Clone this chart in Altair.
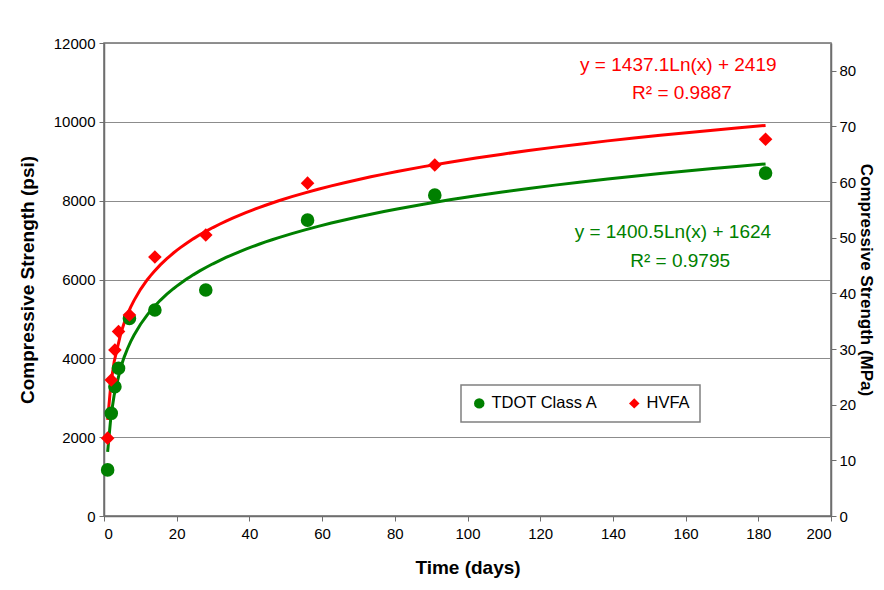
import altair as alt
import pandas as pd

# ---- data ----
days = [1, 2, 3, 4, 7, 14, 28, 56, 91, 182]
tdot_psi = [1170, 2605, 3280, 3750, 5010, 5225, 5735, 7505, 8140, 8700]
hvfa_psi = [1975, 3450, 4210, 4680, 5100, 6570, 7130, 8445, 8905, 9560]
series_names = ["TDOT Class A", "HVFA"]
series_colors = ["#008000", "#ff0000"]
series_shapes = ["circle", "diamond"]

ann_series = ["HVFA", "HVFA", "TDOT Class A", "TDOT Class A"]
ann_text = ["y = 1437.1Ln(x) + 2419", "R² = 0.9887", "y = 1400.5Ln(x) + 1624", "R² = 0.9795"]
ann_day = [158, 159, 156.5, 158.5]
ann_psi = [11430, 10720, 7210, 6460]

psi_to_mpa = 0.0068948
mpa_max = 85
x_ticks = list(range(0, 201, 20))
psi_ticks = list(range(0, 12001, 2000))
mpa_ticks = list(range(0, 81, 10))

df = pd.DataFrame({
    "day": days * 2,
    "strength": tdot_psi + hvfa_psi,
    "series": [series_names[0]] * len(days) + [series_names[1]] * len(days),
})
ann = pd.DataFrame({"series": ann_series, "text": ann_text, "day": ann_day, "strength": ann_psi})

FONT = "Liberation Sans"

xenc = alt.X("day:Q", scale=alt.Scale(domain=[0, 200], nice=False),
             axis=alt.Axis(values=x_ticks, title="Time (days)", grid=False,
                           titlePadding=17, labelPadding=5))
yscale = alt.Scale(domain=[0, 12000], nice=False)
leg = alt.Legend(title=None, orient="none", legendX=357, legendY=342,
                 direction="horizontal", columns=2, columnPadding=28,
                 strokeColor="#808080", padding=10,
                 labelFontSize=16.5, labelFont=FONT, symbolSize=110,
                 fillColor="white", symbolStrokeWidth=0, symbolOpacity=1)
cscale = alt.Scale(domain=series_names, range=series_colors)
color = alt.Color("series:N", scale=cscale, legend=leg)
shape = alt.Shape("series:N", scale=alt.Scale(domain=series_names, range=series_shapes), legend=leg)

points = alt.Chart(df).mark_point(filled=True, size=185, opacity=1).encode(
    x=xenc,
    y=alt.Y("strength:Q", scale=yscale,
            axis=alt.Axis(values=psi_ticks, format="d", title="Compressive Strength (psi)",
                          grid=True, gridColor="#8c8c8c", gridWidth=1.2,
                          titlePadding=16, labelPadding=4)),
    color=color,
    shape=shape,
)

lines = alt.Chart(df).transform_regression(
    "day", "strength", method="log", groupby=["series"], extent=[1, 182]
).mark_line(strokeWidth=3).encode(
    x="day:Q",
    y=alt.Y("strength:Q", scale=yscale),
    color=alt.Color("series:N", scale=cscale, legend=leg),
)

texts = alt.Chart(ann).mark_text(fontSize=19, font=FONT).encode(
    x="day:Q",
    y=alt.Y("strength:Q", scale=yscale),
    text="text:N",
    color=alt.Color("series:N", scale=cscale, legend=leg),
)

left = alt.layer(lines, points, texts)

right = alt.Chart(df).transform_calculate(
    mpa=f"datum.strength * {psi_to_mpa}"
).mark_point(opacity=0).encode(
    x="day:Q",
    y=alt.Y("mpa:Q", scale=alt.Scale(domain=[0, mpa_max], nice=False),
            axis=alt.Axis(orient="right", values=mpa_ticks, grid=False,
                          title="Compressive Strength (MPa)", titlePadding=1,
                          titleFontSize=17, labelPadding=3)),
)

chart = alt.layer(left, right).resolve_scale(y="independent").properties(
    width=727, height=473,
    autosize=alt.AutoSizeParams(type="none"),
    padding={"left": 96, "top": 35, "right": 45, "bottom": 66},
    background="white",
).configure_view(
    stroke="#6e6e6e", strokeWidth=1.5
).configure_axis(
    labelFont=FONT, titleFont=FONT, labelFontSize=15, titleFontSize=19,
    titleFontWeight="bold", labelColor="#000000", titleColor="#000000",
    domainColor="#6e6e6e", tickColor="#6e6e6e", tickSize=5, domainWidth=1.5,
).configure_legend(
    strokeWidth=1.5
)

chart.save("out.html", embed_options={"renderer": "svg", "actions": False})
